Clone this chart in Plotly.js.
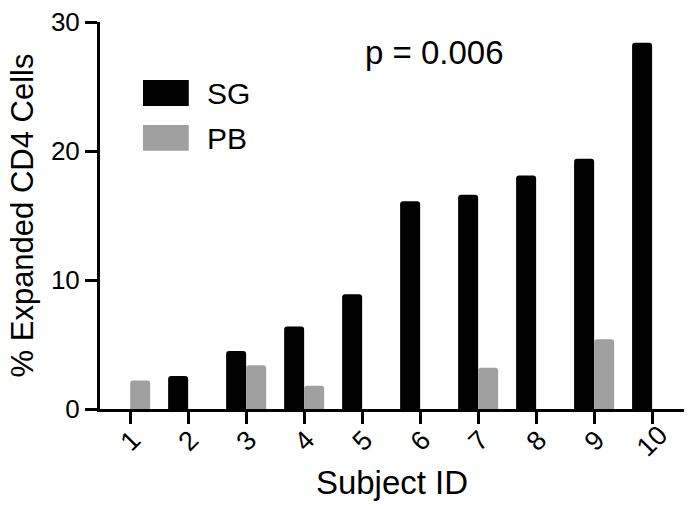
<!DOCTYPE html>
<html>
<head>
<meta charset="utf-8">
<script src="https://cdn.plot.ly/plotly-3.0.1.min.js"></script>
<style>
  html, body { margin: 0; padding: 0; background: #fff; }
  #chart { width: 695px; height: 509px; }
</style>
</head>
<body>
<div id="chart"></div>
<script>
// subject ids on the x axis
var subjects = [1, 2, 3, 4, 5, 6, 7, 8, 9, 10];
var tickLabels = ["1", "2", "3", "4", "5", "6", "7", "8", "9", "10"];

// % expanded CD4 cells (null = no bar)
var sgValues = [null, 2.55, 4.5, 6.4, 8.9, 16.1, 16.6, 18.1, 19.4, 28.4];
var pbValues = [2.2, null, 3.4, 1.8, null, null, 3.2, null, 5.4, null];

var font = "'Liberation Sans', Arial, Helvetica, sans-serif";

var sg = {
  x: subjects,
  y: sgValues,
  name: "SG",
  type: "bar",
  marker: { color: "#000000", cornerradius: 3 },
  hoverinfo: "x+y"
};

var pb = {
  x: subjects,
  y: pbValues,
  name: "PB",
  type: "bar",
  marker: { color: "#a0a0a0", cornerradius: 3 },
  hoverinfo: "x+y"
};

// rotated tick labels, centred under each tick
var annotations = subjects.map(function (s, i) {
  return {
    x: s, xref: "x",
    y: 0, yref: "paper",
    yshift: -32,
    text: tickLabels[i],
    textangle: -45,
    showarrow: false,
    xanchor: "center", yanchor: "middle",
    font: { family: font, size: 27, color: "#000" }
  };
});

// p value
annotations.push({
  x: 0.572, xref: "paper", y: 0.922, yref: "paper",
  text: "p = 0.006", showarrow: false,
  xanchor: "center", yanchor: "middle",
  font: { family: font, size: 33, color: "#000" }
});

// hand made legend with big swatches
annotations.push({
  x: 0.18, xref: "paper", y: 0.8165, yref: "paper",
  text: "SG", showarrow: false, xanchor: "left", yanchor: "middle",
  font: { family: font, size: 30, color: "#000" }
});
annotations.push({
  x: 0.18, xref: "paper", y: 0.700, yref: "paper",
  text: "PB", showarrow: false, xanchor: "left", yanchor: "middle",
  font: { family: font, size: 30, color: "#000" }
});

var shapes = [
  { type: "rect", xref: "paper", yref: "paper", x0: 0.0736, x1: 0.152, y0: 0.783, y1: 0.850,
    fillcolor: "#000000", line: { width: 0 } },
  { type: "rect", xref: "paper", yref: "paper", x0: 0.0736, x1: 0.152, y0: 0.667, y1: 0.734,
    fillcolor: "#a0a0a0", line: { width: 0 } }
];

var layout = {
  width: 695,
  height: 509,
  margin: { l: 100, r: 11, t: 22, b: 100 },
  paper_bgcolor: "#fff",
  plot_bgcolor: "#fff",
  barmode: "group",
  bargap: 0.31,
  bargroupgap: 0,
  showlegend: false,
  font: { family: font, color: "#000" },
  xaxis: {
    range: [0.48, 10.55],
    tickvals: subjects,
    showticklabels: false,
    ticks: "outside",
    ticklen: 12,
    tickwidth: 3,
    tickcolor: "#000",
    showline: true,
    linewidth: 3,
    linecolor: "#000",
    showgrid: false,
    zeroline: false,
    title: { text: "Subject ID", font: { family: font, size: 33 }, standoff: 48 }
  },
  yaxis: {
    range: [0, 30],
    tickvals: [0, 10, 20, 30],
    ticks: "outside",
    ticklen: 12,
    tickwidth: 3,
    tickcolor: "#000",
    tickfont: { family: font, size: 26 },
    showline: true,
    linewidth: 3,
    linecolor: "#000",
    showgrid: false,
    zeroline: false,
    title: { text: "% Expanded CD4 Cells", font: { family: font, size: 31 }, standoff: 9 }
  },
  annotations: annotations,
  shapes: shapes
};

Plotly.newPlot("chart", [sg, pb], layout, { displayModeBar: false, staticPlot: true });
</script>
</body>
</html>
